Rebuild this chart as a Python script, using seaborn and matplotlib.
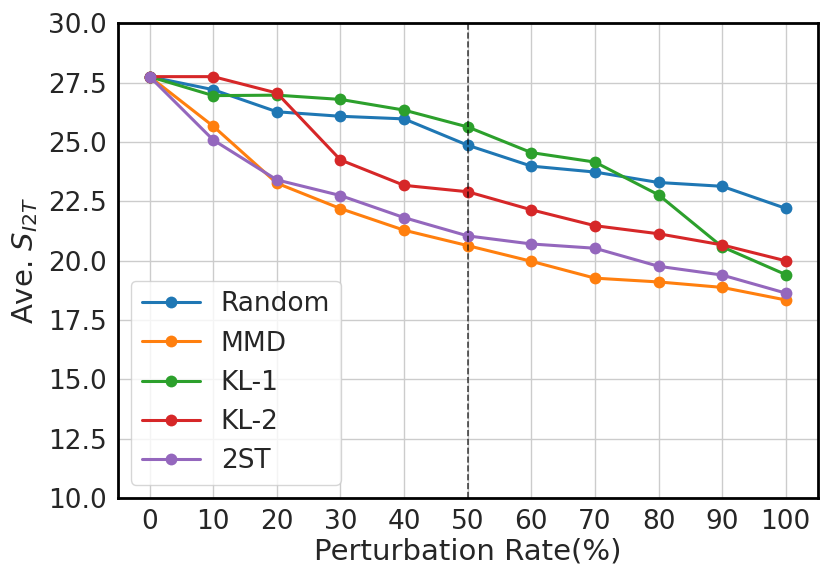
import numpy as np
import pandas as pd
import matplotlib
matplotlib.use("Agg")
import matplotlib.pyplot as plt
import seaborn as sns

# === DATA ===
rates = [0, 10, 20, 30, 40, 50, 60, 70, 80, 90, 100]
random_vals = [27.75, 27.2, 26.27, 26.08, 25.97, 24.86, 23.98, 23.73, 23.29, 23.13, 22.2]
mmd_vals = [27.75, 25.66, 23.26, 22.19, 21.28, 20.63, 19.97, 19.26, 19.1, 18.87, 18.34]
kl1_vals = [27.75, 26.95, 26.97, 26.79, 26.34, 25.63, 24.55, 24.15, 22.77, 20.58, 19.41]
kl2_vals = [27.75, 27.75, 27.06, 24.24, 23.17, 22.9, 22.14, 21.47, 21.13, 20.66, 19.99]
st2_vals = [27.75, 25.08, 23.4, 22.74, 21.81, 21.04, 20.7, 20.52, 19.76, 19.39, 18.63]

methods = ["Random", "MMD", "KL-1", "KL-2", "2ST"]
series = [random_vals, mmd_vals, kl1_vals, kl2_vals, st2_vals]

df = pd.concat(
    [pd.DataFrame({"rate": rates, "score": v, "method": m}) for m, v in zip(methods, series)],
    ignore_index=True,
)

# === STYLE ===
sns.set_theme(style="whitegrid")
plt.rcParams["font.family"] = ["DejaVu Sans"]

fig, ax = plt.subplots(figsize=(8.3, 5.81), dpi=100)
sns.lineplot(data=df, x="rate", y="score", hue="method", hue_order=methods,
             palette="tab10", marker="o", markersize=8.5, markeredgewidth=0,
             linewidth=2.2, ax=ax)

ax.axvline(50, color="black", linestyle="--", linewidth=1.2, alpha=0.7)

ax.set_ylim(10, 30)
ax.set_xticks(rates)
ax.tick_params(labelsize=19, pad=2)
ax.set_xlabel("Perturbation Rate(%)", fontsize=21, labelpad=2)
ax.set_ylabel(r"Ave. $S_{I2T}$", fontsize=21, labelpad=6)

for s in ax.spines.values():
    s.set_color("black")
    s.set_linewidth(2)

leg = ax.legend(loc="lower left", fontsize=19, handlelength=2.2)
leg.set_title(None)

plt.subplots_adjust(left=0.142, right=0.985, top=0.96, bottom=0.143)
plt.savefig("out.png", dpi=100)
